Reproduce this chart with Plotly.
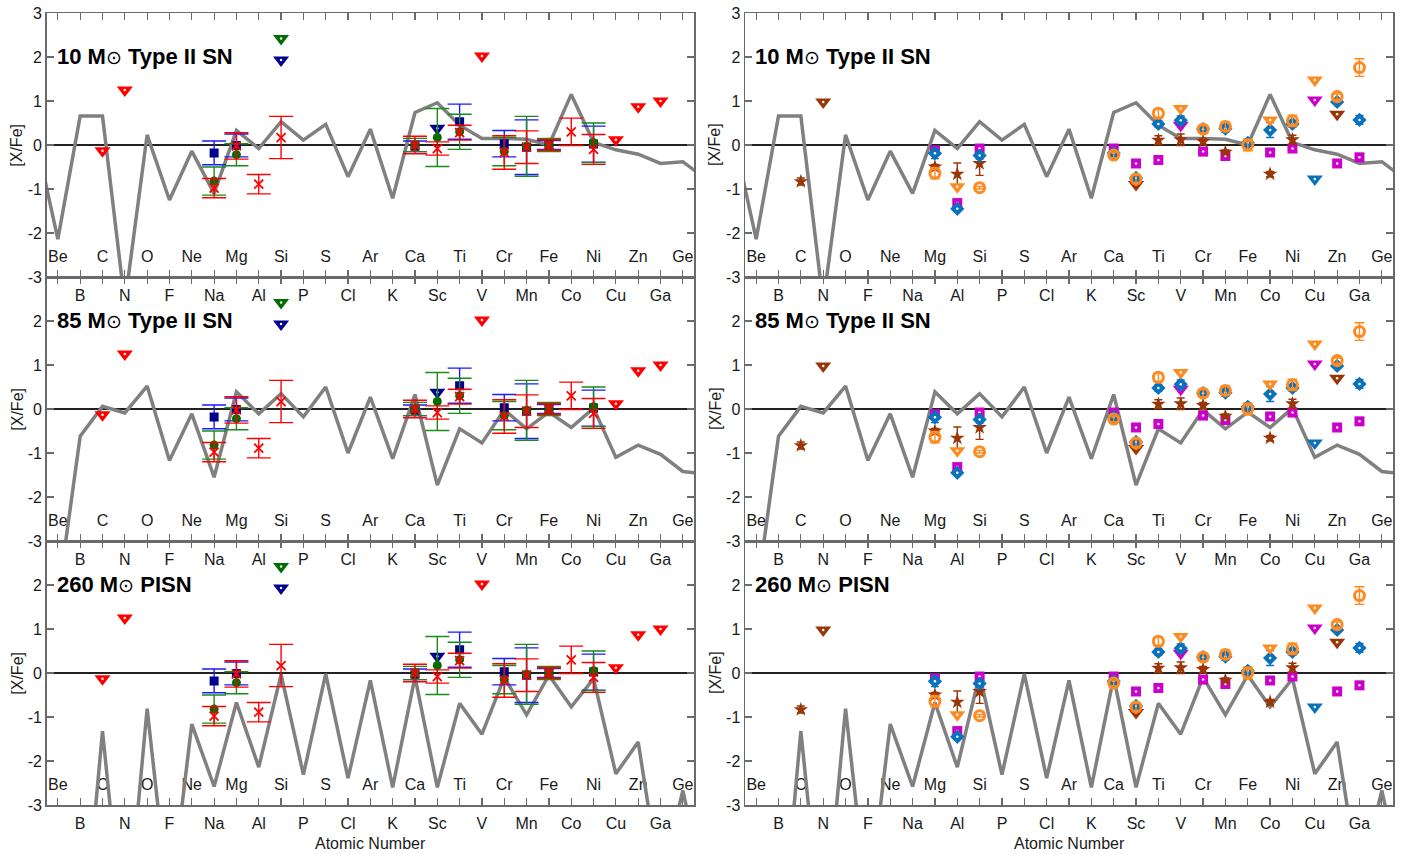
import plotly.graph_objects as go

# ---------------- data ----------------
Z = list(range(3, 34))
ELEM = ["Li", "Be", "B", "C", "N", "O", "F", "Ne", "Na", "Mg", "Al", "Si", "P", "S", "Cl", "Ar",
        "K", "Ca", "Sc", "Ti", "V", "Cr", "Mn", "Fe", "Co", "Ni", "Cu", "Zn", "Ga", "Ge", "As"]

model_10 = [0.18, -2.14, 0.66, 0.66, -3.6, 0.23, -1.25, -0.14, -1.10, 0.33, -0.08, 0.53, 0.11, 0.47,
            -0.72, 0.36, -1.21, 0.74, 0.96, 0.45, 0.15, 0.15, 0.13, 0.00, 1.15, 0.06, -0.11, -0.21,
            -0.42, -0.38, -0.76]
model_85 = [None, -4.3, -0.62, 0.06, -0.09, 0.52, -1.17, -0.11, -1.55, 0.39, -0.11, 0.35, -0.18, 0.50,
            -1.00, 0.27, -1.13, 0.33, -1.73, -0.45, -0.77, -0.02, -0.45, -0.07, -0.42, 0.02, -1.10,
            -0.82, -1.03, -1.42, -1.48]
model_260 = [None, -6.5, -6.9, -1.32, -6.3, -0.81, -5.4, -1.16, -2.58, -0.67, -2.14, -0.03, -2.31, -0.02,
             -2.39, -0.17, -2.60, -0.09, -2.60, -0.69, -1.39, -0.10, -0.95, -0.05, -0.77, -0.13, -2.29,
             -1.57, -4.8, -2.67, -5.0]
model_titles = ["10 M", "85 M", "260 M"]
model_suffix = [" Type II SN", " Type II SN", " PISN"]

# left column observations
red_Z = [11, 12, 13, 14, 20, 21, 22, 24, 25, 26, 27, 28]
red_val = [-0.98, -0.02, -0.89, 0.17, 0.00, -0.08, 0.28, -0.17, -0.05, 0.00, 0.30, -0.10]
red_err = [0.22, 0.30, 0.22, 0.48, 0.20, 0.15, 0.17, 0.38, 0.37, 0.12, 0.31, 0.34]
red_lim_Z = [6, 7, 23, 29, 30, 31]
red_lim_val = [-0.13, 1.25, 2.02, 0.12, 0.87, 1.00]

blue_Z = [11, 12, 20, 22, 24, 25, 26, 28]
blue_val = [-0.18, -0.01, -0.03, 0.53, 0.03, -0.05, 0.00, 0.02]
blue_err = [0.27, 0.26, 0.12, 0.40, 0.30, 0.62, 0.10, 0.41]
blue_lim_Z = [14, 21]
blue_lim_val = [1.93, 0.38]

green_Z = [11, 12, 20, 21, 22, 24, 25, 26, 28]
green_val = [-0.82, -0.22, 0.00, 0.17, 0.30, -0.15, -0.03, 0.00, 0.05]
green_err = [0.32, 0.25, 0.15, 0.66, 0.40, 0.32, 0.68, 0.15, 0.45]
green_lim_Z = [14]
green_lim_val = [2.42]

# right column observations
orange_Z = [12, 14, 20, 21, 22, 24, 25, 26, 28, 30, 31]
orange_val = [-0.64, -0.97, -0.23, -0.77, 0.72, 0.36, 0.42, 0.00, 0.55, 1.10, 1.76]
orange_err = [0.13, 0.03, 0.06, 0.08, 0.10, 0.08, 0.10, 0.13, 0.13, 0.06, 0.20]
orange_lim_Z = [13, 23, 27, 29]
orange_lim_val = [-0.95, 0.83, 0.57, 1.48]

mblue_Z = [12, 13, 14, 20, 21, 22, 23, 24, 25, 26, 27, 28, 30, 31]
mblue_val = [-0.19, -1.45, -0.24, -0.18, -0.75, 0.48, 0.56, 0.36, 0.37, 0.05, 0.34, 0.48, 0.98, 0.57]
mblue_err = [0.12, 0.05, 0.08, 0.05, 0.05, 0.08, 0.10, 0.08, 0.08, 0.08, 0.17, 0.08, 0.05, 0.10]
mblue_lim_Z = [29]
mblue_lim_val = [-0.77]

magenta_Z = [12, 13, 14, 20, 21, 22, 24, 25, 27, 28, 30, 31]
magenta_val = [-0.12, -1.32, -0.08, -0.08, -0.42, -0.34, -0.15, -0.25, -0.17, -0.08, -0.42, -0.28]
magenta_err = [0.05, 0.05, 0.05, 0.05, 0.04, 0.04, 0.05, 0.05, 0.05, 0.05, 0.04, 0.05]
magenta_lim_Z = [23, 29]
magenta_lim_val = [0.45, 1.02]

brown_Z = [6, 12, 13, 14, 22, 23, 24, 25, 27, 28]
brown_val = [-0.83, -0.50, -0.66, -0.42, 0.11, 0.12, 0.08, -0.16, -0.66, 0.12]
brown_err = [0.08, 0.06, 0.25, 0.27, 0.10, 0.13, 0.07, 0.05, 0.06, 0.10]
brown_lim_Z = [7, 21, 30]
brown_lim_val = [0.98, -0.90, 0.70]

# ---------------- layout constants ----------------
W, H = 1413, 854
FONT = "Liberation Sans, Arial, sans-serif"
TXT = "#1a1a1a"
col_px = [(46.7, 694.0), (745.0, 1393.0)]          # pixel positions of the panels
row_px = [(13.0, 277.0), (277.0, 541.0), (541.0, 805.0)]
models = [model_10, model_85, model_260]


def px_x(p):
    return p / W


def px_y(p):
    return 1 - p / H


fig = go.Figure()

tick_Z = list(range(4, 33))
tick_text = [ELEM[Z.index(z)] if z % 2 == 1 else "" for z in tick_Z]
even_Z = [z for z in tick_Z if z % 2 == 0]
even_lab = [ELEM[Z.index(z)] for z in even_Z]


def add_series(xa, ya, zs, vals, errs, sym, size, mcolor, ecolor, capw, lw=None, dot=False, open_=False):
    marker = dict(symbol=sym, size=size, color=mcolor)
    if open_:
        marker["line"] = dict(color=mcolor, width=lw or 2.5)
    elif lw is not None:
        marker["line"] = dict(color=mcolor, width=lw)
    fig.add_trace(go.Scatter(
        x=zs, y=vals, mode="markers", xaxis=xa, yaxis=ya, showlegend=False,
        marker=marker,
        error_y=dict(type="data", array=errs, visible=True, color=ecolor,
                     thickness=1.4, width=capw) if errs is not None else None,
    ))
    if dot:
        fig.add_trace(go.Scatter(x=zs, y=vals, mode="markers", xaxis=xa, yaxis=ya, showlegend=False,
                                 marker=dict(symbol="circle", size=2.5, color="white")))


idx = 0
for c in range(2):
    for r in range(3):
        idx += 1
        sfx = "" if idx == 1 else str(idx)
        xa, ya = "x" + sfx, "y" + sfx
        x0, x1 = col_px[c]
        y0, y1 = row_px[r]
        top = r == 0
        yt = [-3, -2, -1, 0, 1, 2, 3] if top else [-3, -2, -1, 0, 1, 2]
        fig.update_layout(**{
            "xaxis" + sfx: dict(domain=[px_x(x0), px_x(x1)], anchor=ya, range=[3.5, 32.5],
                                tickmode="array", tickvals=tick_Z, ticktext=tick_text,
                                showticklabels=True, ticklabelstandoff=3,
                                tickfont=dict(family=FONT, size=16, color=TXT),
                                ticks="inside", ticklen=7, tickcolor="#6a6a6a", tickwidth=1.2,
                                showline=True, linecolor="#6a6a6a", linewidth=1.5, mirror="allticks",
                                showgrid=False, zeroline=False, fixedrange=True, automargin=False),
            "yaxis" + sfx: dict(domain=[px_y(y1), px_y(y0)], anchor=xa, range=[-3, 3],
                                tickmode="array", tickvals=yt, ticktext=[str(v) for v in yt],
                                ticks="inside", ticklen=7, tickcolor="#6a6a6a", tickwidth=1.2,
                                tickfont=dict(family=FONT, size=16, color=TXT),
                                showline=True, linecolor="#6a6a6a", linewidth=1.5, mirror="allticks",
                                showgrid=False, zeroline=True, zerolinecolor="#222222", zerolinewidth=2,
                                fixedrange=True, automargin=False),
        })
        # element labels inside the panel (even Z)
        fig.add_trace(go.Scatter(x=even_Z, y=[-2.57] * len(even_Z), text=even_lab, mode="text",
                                 xaxis=xa, yaxis=ya, showlegend=False, cliponaxis=False,
                                 textfont=dict(family=FONT, size=16, color=TXT)))
        # model line
        fig.add_trace(go.Scatter(x=Z, y=models[r], mode="lines", xaxis=xa, yaxis=ya, showlegend=False,
                                 line=dict(color="#808080", width=3.5), connectgaps=False))
        if c == 0:
            add_series(xa, ya, blue_Z, blue_val, blue_err, "square", 9, "#00008f", "#1a1aff", 12)
            add_series(xa, ya, blue_lim_Z, blue_lim_val, None, "triangle-down", 14, "#00008f", None, 0, dot=True)
            add_series(xa, ya, green_Z, green_val, green_err, "circle", 9, "#006e00", "#1a8c1a", 12)
            add_series(xa, ya, green_lim_Z, green_lim_val, None, "triangle-down", 14, "#006e00", None, 0, dot=True)
            add_series(xa, ya, red_Z, red_val, red_err, "x-thin-open", 9, "#ff0000", "#ff0000", 12, lw=1.8)
            add_series(xa, ya, red_lim_Z, red_lim_val, None, "triangle-down", 14, "#ff0000", None, 0, dot=True)
        else:
            add_series(xa, ya, magenta_Z, magenta_val, magenta_err, "square", 10, "#cc00cc", "#cc00cc", 4, dot=True)
            add_series(xa, ya, magenta_lim_Z, magenta_lim_val, None, "triangle-down", 14, "#cc00cc", None, 0, dot=True)
            add_series(xa, ya, brown_Z, brown_val, brown_err, "star", 11, "#9a3506", "#9a3506", 4)
            add_series(xa, ya, brown_lim_Z, brown_lim_val, None, "triangle-down", 14, "#9a3506", None, 0, dot=True)
            add_series(xa, ya, mblue_Z, mblue_val, mblue_err, "diamond", 11, "#0a72bd", "#0a72bd", 4, dot=True)
            add_series(xa, ya, mblue_lim_Z, mblue_lim_val, None, "triangle-down", 14, "#0a72bd", None, 0, dot=True)
            add_series(xa, ya, orange_Z, orange_val, orange_err, "circle-open", 10, "#ff8a1f", "#ff8a1f", 5,
                       lw=3, open_=True)
            add_series(xa, ya, orange_lim_Z, orange_lim_val, None, "triangle-down", 14, "#ff8a1f", None, 0, dot=True)

        # panel title
        fig.add_annotation(xref=xa, yref=ya, x=3.85, y=2.02, xanchor="left", yanchor="middle",
                           showarrow=False,
                           text="<b>" + model_titles[r] + "</b><span style='font-size:19px'>⊙</span><b>"
                                + model_suffix[r] + "</b>",
                           font=dict(family=FONT, size=22, color="#000000"))
        # y axis title
        fig.add_annotation(xref="paper", yref="paper", x=px_x(x0 - 30), y=px_y((y0 + y1) / 2),
                           xanchor="center", yanchor="middle", showarrow=False, textangle=-90,
                           text="[X/Fe]", font=dict(family=FONT, size=16, color=TXT))
    # x axis title
    x0, x1 = col_px[c]
    fig.add_annotation(xref="paper", yref="paper", x=px_x((x0 + x1) / 2), y=px_y(843),
                       xanchor="center", yanchor="middle", showarrow=False,
                       text="Atomic Number", font=dict(family=FONT, size=16, color=TXT))

fig.update_layout(width=W, height=H, margin=dict(l=0, r=0, t=0, b=0, autoexpand=False),
                  paper_bgcolor="white", plot_bgcolor="white", showlegend=False)

fig.write_html("out.html", config={"displayModeBar": False, "staticPlot": True},
               post_script="document.body.style.margin='0';document.body.style.overflow='hidden';")
